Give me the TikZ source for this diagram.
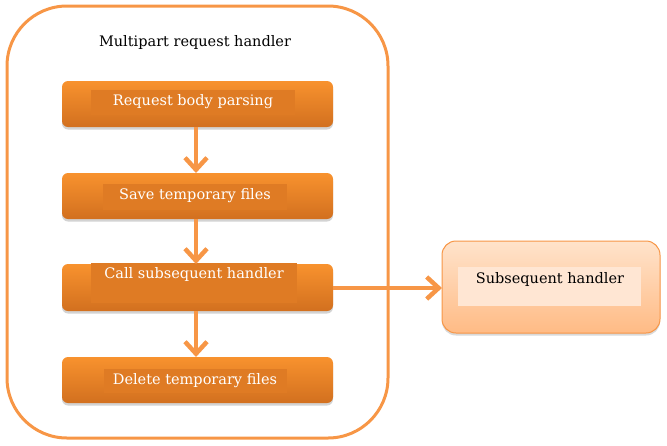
\documentclass[tikz,border=0pt]{standalone}
\usepackage{fontspec}
\setmainfont{DejaVu Serif}
\usetikzlibrary{arrows.meta,shadows}
\definecolor{borange}{HTML}{F79646}
\definecolor{otop}{HTML}{F8922E}
\definecolor{obot}{HTML}{D2701F}
\definecolor{oinner}{HTML}{DF7B24}
\definecolor{ptop}{HTML}{FFE3CB}
\definecolor{pbot}{HTML}{FFBB85}
\definecolor{pinner}{HTML}{FFE6D3}
\tikzset{
  stepbox/.style={rounded corners=6pt, top color=otop, bottom color=obot, draw=none,
    drop shadow={opacity=0.35, shadow xshift=0pt, shadow yshift=-2.5pt}},
  innerbox/.style={fill=oinner, draw=none},
  lbl/.style={font=\fontsize{14.5pt}{16pt}\selectfont, inner sep=0pt},
  flow/.style={draw=borange, line width=4.5pt, -{Straight Barb[length=12pt,width=22pt]}},
}
\begin{document}
\begin{tikzpicture}[x=1pt,y=-1pt]
\useasboundingbox (0,0) rectangle (667,445);
% outer container
\draw[borange, line width=3pt, rounded corners=60pt] (7,6) rectangle (388,438);
\node[lbl, text=black] (title) at (195,42) {Multipart request handler};
% step boxes
\path[stepbox] (62,81) rectangle (333,127);
\path[innerbox] (91,90) rectangle (295,115);
\node[lbl, text=white] (s1) at (193,102) {Request body parsing};
\path[stepbox] (62,173) rectangle (333,219);
\path[innerbox] (103,184) rectangle (287,210);
\node[lbl, text=white] (s2) at (195,196) {Save temporary files};
\path[stepbox] (62,264) rectangle (333,311);
\path[innerbox] (91,263) rectangle (297,303);
\node[lbl, text=white] (s3) at (194,274) {Call subsequent handler};
\path[stepbox] (62,357) rectangle (333,403);
\path[innerbox] (104,369) rectangle (287,393);
\node[lbl, text=white] (s4) at (195,381) {Delete temporary files};
% named anchors for boxes
\coordinate (b1) at (196,127); \coordinate (t2) at (196,173);
\coordinate (b2) at (196,219); \coordinate (t3) at (196,264);
\coordinate (b3) at (196,311); \coordinate (t4) at (196,357);
\coordinate (r3) at (333,288);
% subsequent handler
\path[rounded corners=14pt, top color=ptop, bottom color=pbot, draw=borange, line width=1pt,
  drop shadow={opacity=0.3, shadow xshift=0pt, shadow yshift=-2.5pt}] (442,241) rectangle (660,333);
\path[fill=pinner] (458,267) rectangle (641,306);
\node[lbl, text=black] (sh) at (550,279) {Subsequent handler};
\coordinate (lh) at (442,288);
% connectors
\draw[flow] (b1) -- (t2);
\draw[flow] (b2) -- (t3);
\draw[flow] (b3) -- (t4);
\draw[flow] (r3) -- (lh);
\end{tikzpicture}
\end{document}
